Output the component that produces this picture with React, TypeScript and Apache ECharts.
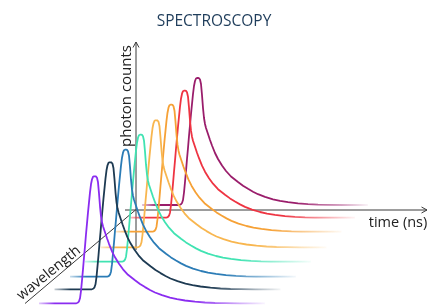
import React, { useEffect, useRef } from 'react';
import * as echarts from 'echarts';

const chartTitle = 'SPECTROSCOPY';
const yAxisName = 'photon counts';
const xAxisName = 'time (ns)';
const zAxisName = 'wavelength';

// one decay curve per wavelength, front (purple) to back (magenta)
const curveNames = ['λ1', 'λ2', 'λ3', 'λ4', 'λ5', 'λ6', 'λ7', 'λ8'];
const curveColors = ['#8a2cf0', '#1d3a52', '#2b7cb6', '#40e3b2', '#f8b64f', '#f6a136', '#ee3442', '#9a1d6b'];
// time of the peak and baseline count level of each curve (in the projected waterfall view)
const peakTimes = [95, 110.5, 126, 141, 156.5, 171.5, 185, 198];
const baselineCounts = [1.7, 15.7, 28.3, 43.3, 57.7, 73.3, 87.3, 100];

// shared pulse profile: time relative to peak, counts above baseline
const profileTime = [-56, -19, -18, -17, -16, -15, -14, -13, -12, -11, -10, -9, -8, -7, -6, -5, -4, -3, -2, -1, 0, 1, 2, 3, 4, 5, 6, 7, 8, 10, 12, 14, 17, 20, 24, 28, 33, 40, 45, 50, 55, 60, 67, 75, 82, 90, 100, 110, 120, 130, 145, 170];
const profileCounts = [0, 0, 0.3, 0.8, 2, 5, 12.5, 23, 34, 46, 57, 69, 80, 91, 101, 111, 119, 124, 126.5, 127, 127, 126.8, 125.5, 121, 110, 97, 87, 81, 77, 71, 65, 59.5, 52, 46, 39.5, 34, 28.5, 23, 19.3, 16.2, 13.3, 10.8, 8.1, 5.7, 4.1, 2.8, 1.6, 0.8, 0.3, 0.1, 0, 0];

// axis guide lines (time axis, counts axis, wavelength axis)
const countsAxisLine = [[136, 55], [136, 263]];
const countsAxisArrow = [[133, 257.5], [136, 263], [139, 257.5]];
const timeAxisLine = [[125, 95], [427, 95]];
const timeAxisArrow = [[421.5, 98], [427, 95], [421.5, 92]];
const wavelengthAxisLine = [[135.5, 95], [25, 1.5]];

function rgba(hex: string, a: number) {
  const n = parseInt(hex.slice(1), 16);
  return `rgba(${(n >> 16) & 255},${(n >> 8) & 255},${n & 255},${a})`;
}

export default function App() {
  const ref = useRef<HTMLDivElement>(null);
  useEffect(() => {
    if (!ref.current) return;
    const chart = echarts.init(ref.current, null, { renderer: 'svg' });
    const axisColor = '#3a3a3a';
    const guide = (data: number[][]) => ({
      type: 'line',
      data,
      symbol: 'none',
      silent: true,
      z: 1,
      lineStyle: { color: axisColor, width: 1 },
    });
    const curves = curveNames
      .map((name, i) => {
        const c = curveColors[i];
        return {
          type: 'line',
          name,
          data: profileTime.map((t, k) => [t + peakTimes[i], profileCounts[k] + baselineCounts[i]]),
          symbol: 'none',
          smooth: false,
          silent: true,
          z: 2,
          lineStyle: {
            width: 1.8,
            join: 'round',
            color: new echarts.graphic.LinearGradient(0, 0, 1, 0, [
              { offset: 0, color: rgba(c, 0.25) },
              { offset: 0.07, color: c },
              { offset: 0.68, color: c },
              { offset: 1, color: rgba(c, 0.05) },
            ]),
          },
        };
      })
      .reverse();
    const textFont = "'Open Sans', 'Noto Sans', sans-serif";
    chart.setOption({
      animation: false,
      grid: { left: 0, right: 0, top: 0, bottom: 0 },
      xAxis: { type: 'value', min: 0, max: 428, show: false },
      yAxis: { type: 'value', min: 0, max: 305, show: false },
      title: {
        text: chartTitle,
        left: 'center',
        top: 7,
        textStyle: { fontFamily: textFont, fontSize: 15.5, fontWeight: 500, color: '#1f3d5b' },
      },
      graphic: [
        {
          type: 'text',
          x: 125,
          y: 96,
          rotation: Math.PI / 2,
          style: { text: yAxisName, fill: '#222', font: `15px ${textFont}`, align: 'center', verticalAlign: 'middle' },
        },
        {
          type: 'text',
          x: 398,
          y: 221,
          style: { text: xAxisName, fill: '#222', font: `14.5px ${textFont}`, align: 'center', verticalAlign: 'middle' },
        },
        {
          type: 'text',
          x: 48,
          y: 272,
          rotation: (39 * Math.PI) / 180,
          style: { text: zAxisName, fill: '#222', font: `14.5px ${textFont}`, align: 'center', verticalAlign: 'middle' },
        },
      ],
      series: [
        guide(countsAxisLine),
        guide(countsAxisArrow),
        guide(timeAxisLine),
        guide(timeAxisArrow),
        guide(wavelengthAxisLine),
        ...curves,
      ],
    });
    return () => chart.dispose();
  }, []);
  return <div ref={ref} style={{ position: 'fixed', left: 0, top: 0, width: 428, height: 305 }} />;
}
